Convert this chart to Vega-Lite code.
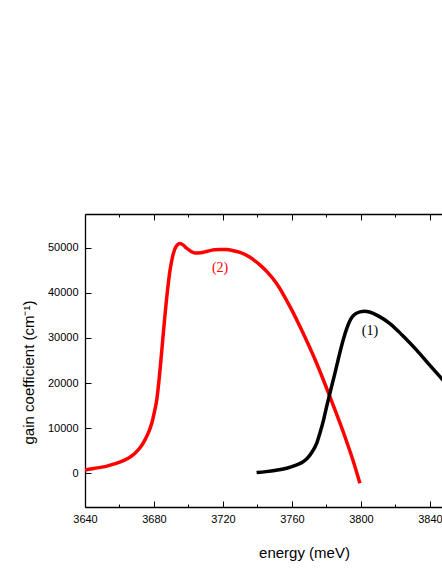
{
  "$schema": "https://vega.github.io/schema/vega-lite/v6.json",
  "width": 357,
  "height": 293,
  "autosize": "none",
  "padding": {"left": 85, "top": 214, "right": 0, "bottom": 64},
  "background": "white",
  "config": {
    "view": {"stroke": null},
    "axis": {"labelFont": "Liberation Sans", "titleFont": "Liberation Sans", "labelFontSize": 11, "titleFontSize": 15, "titleFontWeight": "normal", "labelColor": "black", "titleColor": "black", "domainColor": "black", "tickColor": "black", "domainWidth": 1.3, "tickWidth": 1, "grid": false, "labelOverlap": false}
  },
  "datasets": {
    "curves": [
      {"energy": 3640, "gain": 730, "curve": "(2)"},
      {"energy": 3645, "gain": 1050, "curve": "(2)"},
      {"energy": 3651.6, "gain": 1460, "curve": "(2)"},
      {"energy": 3657, "gain": 2050, "curve": "(2)"},
      {"energy": 3663.2, "gain": 2950, "curve": "(2)"},
      {"energy": 3666, "gain": 3550, "curve": "(2)"},
      {"energy": 3669, "gain": 4430, "curve": "(2)"},
      {"energy": 3672, "gain": 5700, "curve": "(2)"},
      {"energy": 3674.8, "gain": 7390, "curve": "(2)"},
      {"energy": 3677, "gain": 9200, "curve": "(2)"},
      {"energy": 3678.7, "gain": 11080, "curve": "(2)"},
      {"energy": 3680.2, "gain": 13500, "curve": "(2)"},
      {"energy": 3681.6, "gain": 16250, "curve": "(2)"},
      {"energy": 3683.5, "gain": 22900, "curve": "(2)"},
      {"energy": 3685.4, "gain": 31000, "curve": "(2)"},
      {"energy": 3687.4, "gain": 39000, "curve": "(2)"},
      {"energy": 3689.3, "gain": 45000, "curve": "(2)"},
      {"energy": 3691.2, "gain": 48700, "curve": "(2)"},
      {"energy": 3693, "gain": 50400, "curve": "(2)"},
      {"energy": 3695, "gain": 50950, "curve": "(2)"},
      {"energy": 3697, "gain": 50600, "curve": "(2)"},
      {"energy": 3699, "gain": 49900, "curve": "(2)"},
      {"energy": 3701.5, "gain": 49200, "curve": "(2)"},
      {"energy": 3704, "gain": 48850, "curve": "(2)"},
      {"energy": 3707, "gain": 48900, "curve": "(2)"},
      {"energy": 3711, "gain": 49250, "curve": "(2)"},
      {"energy": 3715, "gain": 49550, "curve": "(2)"},
      {"energy": 3718.3, "gain": 49650, "curve": "(2)"},
      {"energy": 3722, "gain": 49600, "curve": "(2)"},
      {"energy": 3726, "gain": 49350, "curve": "(2)"},
      {"energy": 3729.9, "gain": 49000, "curve": "(2)"},
      {"energy": 3735.7, "gain": 47900, "curve": "(2)"},
      {"energy": 3741.4, "gain": 46200, "curve": "(2)"},
      {"energy": 3746, "gain": 44500, "curve": "(2)"},
      {"energy": 3751.1, "gain": 42100, "curve": "(2)"},
      {"energy": 3758.8, "gain": 37000, "curve": "(2)"},
      {"energy": 3766.5, "gain": 31030, "curve": "(2)"},
      {"energy": 3774.3, "gain": 24380, "curve": "(2)"},
      {"energy": 3782, "gain": 16980, "curve": "(2)"},
      {"energy": 3789.7, "gain": 9200, "curve": "(2)"},
      {"energy": 3795, "gain": 3300, "curve": "(2)"},
      {"energy": 3799.4, "gain": -2220, "curve": "(2)"},
      {"energy": 3739.5, "gain": 130, "curve": "(1)"},
      {"energy": 3745, "gain": 350, "curve": "(1)"},
      {"energy": 3750, "gain": 600, "curve": "(1)"},
      {"energy": 3756.9, "gain": 1100, "curve": "(1)"},
      {"energy": 3762, "gain": 1750, "curve": "(1)"},
      {"energy": 3766.6, "gain": 2570, "curve": "(1)"},
      {"energy": 3770, "gain": 3800, "curve": "(1)"},
      {"energy": 3772.4, "gain": 5160, "curve": "(1)"},
      {"energy": 3774.5, "gain": 6800, "curve": "(1)"},
      {"energy": 3776.2, "gain": 8860, "curve": "(1)"},
      {"energy": 3778.2, "gain": 11600, "curve": "(1)"},
      {"energy": 3780.1, "gain": 14760, "curve": "(1)"},
      {"energy": 3782.5, "gain": 18500, "curve": "(1)"},
      {"energy": 3784.9, "gain": 22160, "curve": "(1)"},
      {"energy": 3787.3, "gain": 26000, "curve": "(1)"},
      {"energy": 3789.7, "gain": 29540, "curve": "(1)"},
      {"energy": 3791.7, "gain": 32000, "curve": "(1)"},
      {"energy": 3793.6, "gain": 33800, "curve": "(1)"},
      {"energy": 3795, "gain": 34700, "curve": "(1)"},
      {"energy": 3797, "gain": 35400, "curve": "(1)"},
      {"energy": 3799.4, "gain": 35800, "curve": "(1)"},
      {"energy": 3802.3, "gain": 35950, "curve": "(1)"},
      {"energy": 3805, "gain": 35750, "curve": "(1)"},
      {"energy": 3810, "gain": 34900, "curve": "(1)"},
      {"energy": 3816.8, "gain": 33200, "curve": "(1)"},
      {"energy": 3824, "gain": 30600, "curve": "(1)"},
      {"energy": 3832.3, "gain": 27300, "curve": "(1)"},
      {"energy": 3840, "gain": 23900, "curve": "(1)"},
      {"energy": 3845.8, "gain": 21400, "curve": "(1)"},
      {"energy": 3850, "gain": 19500, "curve": "(1)"}
    ],
    "labels": [
      {"energy": 3718.3, "gain": 45500, "curve": "(2)"},
      {"energy": 3805.2, "gain": 31540, "curve": "(1)"}
    ]
  },
  "layer": [
    {
      "data": {"name": "curves"},
      "mark": {"type": "line", "strokeWidth": 3.5, "clip": true, "interpolate": "monotone"},
      "encoding": {
        "x": {"field": "energy", "type": "quantitative", "scale": {"domain": [3640, 3847], "nice": false, "zero": false},
          "axis": {"orient": "bottom", "title": "energy (meV)", "values": [3640, 3660, 3680, 3700, 3720, 3740, 3760, 3780, 3800, 3820, 3840], "format": "d",
            "labelExpr": "datum.value % 40 == 0 ? datum.label : ''",
            "tickSize": {"condition": {"test": "datum.value % 40 == 0", "value": -6}, "value": -3},
            "labelPadding": 12, "labelFlush": false, "titleX": 219, "titleY": 50, "titleBaseline": "alphabetic"}},
        "y": {"field": "gain", "type": "quantitative", "scale": {"domain": [-7500, 57500], "nice": false, "zero": false},
          "axis": {"orient": "left", "title": "gain coefficient (cm⁻¹)", "values": [0, 10000, 20000, 30000, 40000, 50000], "format": "d",
            "tickSize": -6, "labelOverlap": false, "labelBound": false,
            "labelPadding": 13, "titleX": -49, "titleY": 158, "titleAlign": "center"}},
        "color": {"field": "curve", "type": "nominal", "scale": {"domain": ["(1)", "(2)"], "range": ["black", "#ff0000"]}, "legend": null},
        "detail": {"field": "curve"}
      }
    },
    {
      "data": {"name": "labels"},
      "mark": {"type": "text", "font": "Liberation Serif", "fontSize": 14, "align": "center", "baseline": "middle"},
      "encoding": {
        "x": {"field": "energy", "type": "quantitative",
          "axis": {"orient": "top", "title": null, "labels": false, "values": [3640, 3660, 3680, 3700, 3720, 3740, 3760, 3780, 3800, 3820, 3840],
            "tickSize": {"condition": {"test": "datum.value % 40 == 0", "value": -6}, "value": -3}}},
        "y": {"field": "gain", "type": "quantitative"},
        "text": {"field": "curve"},
        "color": {"field": "curve", "type": "nominal", "legend": null}
      }
    }
  ],
  "resolve": {"axis": {"x": "independent"}}
}
